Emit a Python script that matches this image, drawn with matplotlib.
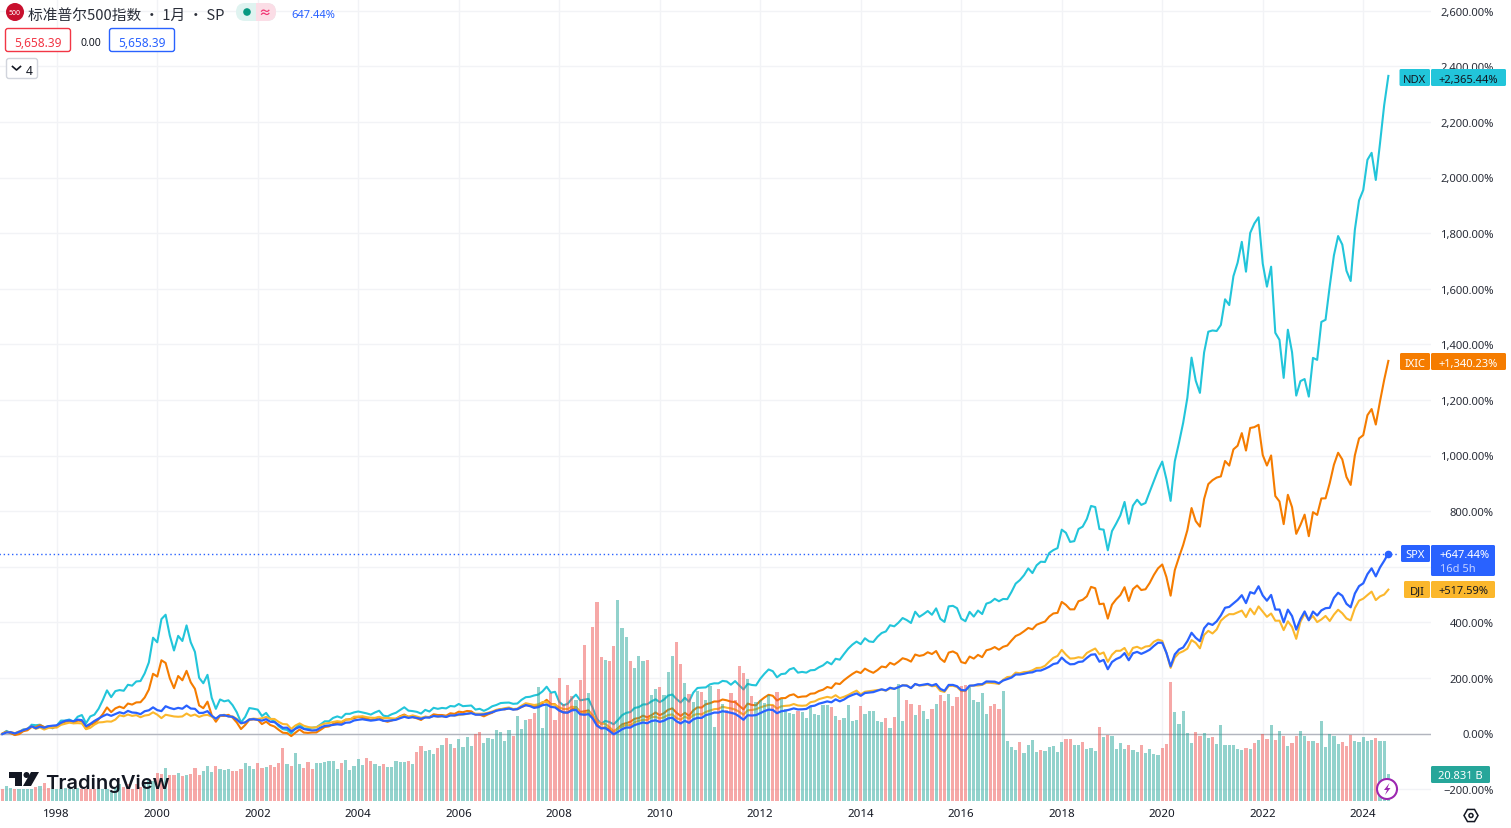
import matplotlib
matplotlib.use("Agg")
import matplotlib.pyplot as plt
import numpy as np
from matplotlib.patches import Circle, FancyBboxPatch, Polygon, Rectangle, RegularPolygon

plt.rcParams["font.family"] = ["Noto Sans", "Noto Sans CJK SC", "DejaVu Sans"]

# monthly closes, Dec 1996 .. Jul 2024, one row per year
spx_close = [
    740.7,
    786, 791, 757, 801, 848, 885, 954, 899, 947, 915, 955, 970,
    980, 1049, 1102, 1112, 1091, 1134, 1121, 957, 1017, 1099, 1164, 1229,
    1280, 1238, 1286, 1335, 1302, 1373, 1329, 1320, 1283, 1363, 1389, 1469,
    1394, 1366, 1499, 1452, 1421, 1455, 1431, 1518, 1437, 1429, 1315, 1320,
    1366, 1240, 1160, 1249, 1256, 1224, 1211, 1134, 1041, 1060, 1139, 1148,
    1130, 1107, 1147, 1077, 1067, 990, 912, 916, 815, 886, 936, 880,
    856, 841, 848, 917, 964, 975, 990, 1008, 996, 1051, 1058, 1112,
    1131, 1145, 1126, 1107, 1121, 1141, 1102, 1104, 1115, 1130, 1174, 1212,
    1181, 1204, 1181, 1157, 1192, 1191, 1234, 1220, 1229, 1207, 1249, 1248,
    1280, 1281, 1295, 1311, 1270, 1270, 1277, 1304, 1336, 1378, 1401, 1418,
    1438, 1407, 1421, 1482, 1531, 1503, 1455, 1474, 1527, 1549, 1481, 1468,
    1379, 1331, 1323, 1386, 1400, 1280, 1267, 1283, 1165, 969, 896, 903,
    826, 735, 798, 873, 919, 919, 987, 1021, 1057, 1036, 1096, 1115,
    1074, 1104, 1169, 1187, 1089, 1031, 1102, 1049, 1141, 1183, 1181, 1258,
    1286, 1327, 1326, 1364, 1345, 1321, 1292, 1219, 1131, 1253, 1247, 1258,
    1312, 1366, 1408, 1398, 1310, 1362, 1379, 1407, 1441, 1412, 1416, 1426,
    1498, 1515, 1569, 1598, 1631, 1606, 1686, 1633, 1682, 1757, 1806, 1848,
    1783, 1859, 1872, 1884, 1924, 1960, 1931, 2003, 1972, 2018, 2068, 2059,
    1995, 2105, 2068, 2086, 2107, 2063, 2104, 1972, 1920, 2079, 2080, 2044,
    1940, 1932, 2060, 2065, 2097, 2099, 2174, 2171, 2168, 2126, 2199, 2239,
    2279, 2364, 2363, 2384, 2412, 2423, 2470, 2472, 2519, 2575, 2648, 2674,
    2824, 2714, 2641, 2648, 2705, 2718, 2816, 2902, 2914, 2712, 2760, 2507,
    2704, 2784, 2834, 2946, 2752, 2942, 2980, 2926, 2977, 3038, 3141, 3231,
    3226, 2954, 2585, 2912, 3044, 3100, 3271, 3500, 3363, 3270, 3622, 3756,
    3714, 3811, 3973, 4181, 4204, 4298, 4395, 4523, 4308, 4605, 4567, 4766,
    4516, 4374, 4530, 4132, 4132, 3785, 4130, 3955, 3586, 3872, 4080, 3840,
    4077, 3970, 4109, 4169, 4180, 4450, 4589, 4508, 4288, 4194, 4568, 4770,
    4846, 5096, 5254, 5036, 5278, 5460, 5658.39,
]
dji_close = [
    6448,
    6813, 6877, 6584, 7009, 7331, 7673, 8223, 7622, 7945, 7442, 7823, 7908,
    7907, 8546, 8800, 9063, 8900, 8952, 8883, 7539, 7843, 8592, 9117, 9181,
    9359, 9307, 9786, 10789, 10560, 10971, 10655, 10829, 10337, 10730, 10878, 11497,
    10941, 10128, 10922, 10734, 10522, 10448, 10522, 11215, 10651, 10971, 10415, 10787,
    10887, 10495, 9879, 10735, 10912, 10502, 10523, 9950, 8848, 9075, 9852, 10022,
    9920, 10106, 10404, 9946, 9925, 9243, 8737, 8663, 7592, 8397, 8896, 8342,
    8054, 7891, 7992, 8480, 8850, 8985, 9234, 9416, 9275, 9801, 9782, 10454,
    10488, 10584, 10358, 10226, 10188, 10435, 10140, 10174, 10080, 10027, 10428, 10783,
    10490, 10766, 10504, 10192, 10467, 10275, 10641, 10482, 10569, 10440, 10806, 10718,
    10865, 10993, 11109, 11367, 11168, 11150, 11186, 11381, 11679, 12081, 12222, 12463,
    12622, 12269, 12354, 13063, 13628, 13409, 13212, 13358, 13896, 13930, 13372, 13265,
    12650, 12266, 12263, 12820, 12638, 11350, 11378, 11544, 10851, 9325, 8829, 8776,
    8001, 7063, 7609, 8168, 8500, 8447, 9172, 9496, 9712, 9713, 10345, 10428,
    10067, 10325, 10857, 11009, 10137, 9774, 10466, 10015, 10788, 11118, 11006, 11578,
    11892, 12226, 12320, 12811, 12570, 12414, 12143, 11614, 10913, 11955, 12046, 12218,
    12633, 12952, 13212, 13214, 12393, 12880, 13009, 13091, 13437, 13096, 13026, 13104,
    13861, 14054, 14579, 14840, 15116, 14910, 15500, 14810, 15130, 15546, 16086, 16577,
    15699, 16322, 16458, 16581, 16717, 16827, 16563, 17098, 17043, 17391, 17828, 17823,
    17165, 18133, 17776, 17841, 18011, 17620, 17690, 16528, 16285, 17664, 17720, 17425,
    16466, 16517, 17685, 17774, 17787, 17930, 18432, 18401, 18308, 18142, 19124, 19763,
    19864, 20812, 20663, 20941, 21009, 21350, 21891, 21948, 22405, 23377, 24272, 24719,
    26149, 25029, 24103, 24163, 24416, 24271, 25415, 25965, 26458, 25116, 25538, 23327,
    24999, 25916, 25929, 26593, 24815, 26600, 26864, 26403, 26917, 27046, 28051, 28538,
    28256, 25409, 21917, 24346, 25383, 25813, 26428, 28430, 27782, 26502, 29639, 30606,
    29983, 30932, 32982, 33875, 34529, 34503, 34935, 35361, 33844, 35820, 34484, 36338,
    35132, 33893, 34678, 32977, 32990, 30775, 32845, 31510, 28726, 32733, 34590, 33147,
    34086, 32657, 33274, 34098, 32908, 34408, 35560, 34722, 33508, 33053, 35951, 37690,
    38150, 38996, 39807, 37816, 38686, 39119, 40277,
]
ixic_close = [
    1291,
    1380, 1309, 1221, 1261, 1400, 1442, 1594, 1587, 1686, 1594, 1601, 1570,
    1619, 1771, 1835, 1868, 1779, 1894, 1872, 1499, 1694, 1771, 1950, 2193,
    2506, 2288, 2461, 2543, 2471, 2686, 2638, 2739, 2746, 2966, 3336, 4069,
    3940, 4697, 4573, 3861, 3401, 3966, 3767, 4206, 3673, 3370, 2598, 2471,
    2773, 2152, 1840, 2116, 2110, 2161, 2027, 1805, 1499, 1690, 1931, 1950,
    1934, 1731, 1845, 1688, 1616, 1463, 1328, 1315, 1172, 1330, 1479, 1336,
    1321, 1338, 1341, 1464, 1596, 1623, 1735, 1810, 1787, 1932, 1960, 2003,
    2066, 2030, 1994, 1920, 1987, 2048, 1887, 1838, 1897, 1975, 2096, 2175,
    2062, 2052, 1999, 1922, 2068, 2057, 2185, 2152, 2152, 2120, 2233, 2205,
    2306, 2281, 2340, 2323, 2179, 2172, 2091, 2184, 2258, 2367, 2432, 2415,
    2464, 2416, 2422, 2525, 2605, 2603, 2546, 2596, 2702, 2859, 2661, 2652,
    2390, 2271, 2279, 2413, 2523, 2293, 2326, 2368, 2092, 1721, 1536, 1577,
    1476, 1378, 1529, 1717, 1774, 1835, 1979, 2009, 2122, 2045, 2145, 2269,
    2147, 2238, 2398, 2461, 2257, 2109, 2255, 2114, 2369, 2507, 2498, 2653,
    2700, 2782, 2781, 2874, 2835, 2774, 2756, 2579, 2415, 2684, 2620, 2605,
    2814, 2967, 3092, 3046, 2827, 2935, 2940, 3067, 3116, 2977, 3010, 3020,
    3142, 3160, 3268, 3329, 3456, 3403, 3626, 3590, 3771, 3920, 4060, 4177,
    4104, 4308, 4199, 4115, 4243, 4408, 4370, 4580, 4493, 4631, 4792, 4736,
    4635, 4964, 4901, 4941, 5070, 4987, 5128, 4777, 4620, 5054, 5109, 5007,
    4614, 4558, 4870, 4775, 4948, 4843, 5162, 5213, 5312, 5189, 5324, 5383,
    5615, 5825, 5912, 6048, 6199, 6140, 6348, 6429, 6496, 6728, 6874, 6903,
    7411, 7273, 7063, 7066, 7442, 7510, 7672, 8110, 8046, 7306, 7331, 6635,
    7282, 7533, 7729, 8095, 7453, 8006, 8175, 7963, 7999, 8292, 8665, 8973,
    9151, 8567, 7700, 8890, 9490, 10059, 10745, 11775, 11168, 10912, 12199, 12888,
    13071, 13192, 13247, 13963, 13749, 14504, 14673, 15259, 14449, 15498, 15538, 15645,
    14240, 13751, 14221, 12335, 12081, 11029, 12391, 11816, 10576, 10988, 11468, 10466,
    11585, 11456, 12222, 12227, 12935, 13788, 14346, 14035, 13219, 12851, 14226, 15011,
    15164, 16092, 16379, 15658, 16735, 17733, 18617,
]
ndx_close = [
    821,
    911, 851, 797, 871, 957, 957, 1097, 1082, 1098, 1019, 1050, 990,
    1072, 1221, 1220, 1253, 1185, 1337, 1388, 1141, 1345, 1400, 1578, 1836,
    2128, 1925, 2106, 2137, 2116, 2296, 2270, 2396, 2407, 2637, 2967, 3708,
    3570, 4266, 4397, 3774, 3324, 3764, 3609, 4077, 3570, 3283, 2506, 2342,
    2594, 1908, 1573, 1855, 1799, 1830, 1683, 1470, 1168, 1330, 1597, 1577,
    1550, 1359, 1452, 1277, 1197, 1051, 963, 942, 833, 989, 1116, 984,
    985, 1009, 1018, 1106, 1200, 1201, 1301, 1347, 1304, 1424, 1424, 1468,
    1494, 1466, 1438, 1401, 1466, 1517, 1370, 1348, 1412, 1456, 1537, 1621,
    1519, 1506, 1483, 1432, 1543, 1493, 1605, 1573, 1601, 1587, 1659, 1645,
    1720, 1654, 1665, 1674, 1551, 1575, 1514, 1571, 1651, 1690, 1747, 1757,
    1762, 1724, 1734, 1845, 1923, 1935, 1975, 2002, 2097, 2238, 2058, 2085,
    1781, 1680, 1723, 1877, 2000, 1829, 1850, 1872, 1599, 1275, 1123, 1212,
    1176, 1110, 1235, 1382, 1453, 1478, 1600, 1626, 1705, 1710, 1796, 1860,
    1776, 1849, 1973, 2003, 1868, 1765, 1905, 1789, 2058, 2199, 2210, 2217,
    2309, 2339, 2338, 2412, 2396, 2298, 2406, 2277, 2155, 2322, 2289, 2278,
    2476, 2626, 2755, 2703, 2519, 2616, 2631, 2757, 2799, 2660, 2682, 2660,
    2731, 2739, 2819, 2878, 2982, 2910, 3076, 3049, 3218, 3378, 3500, 3592,
    3514, 3691, 3596, 3580, 3736, 3849, 3896, 4082, 4049, 4158, 4298, 4236,
    4149, 4488, 4334, 4415, 4509, 4396, 4588, 4274, 4181, 4648, 4664, 4593,
    4279, 4202, 4483, 4341, 4523, 4418, 4730, 4772, 4875, 4801, 4870, 4864,
    5082, 5331, 5436, 5584, 5788, 5647, 5880, 5988, 5979, 6248, 6337, 6396,
    6949, 6855, 6581, 6605, 6968, 7040, 7272, 7660, 7627, 6967, 6949, 6330,
    6906, 7132, 7378, 7781, 7127, 7671, 7848, 7692, 7749, 8083, 8405, 8733,
    8991, 8462, 7813, 9000, 9556, 10156, 10905, 12110, 11418, 11053, 12268, 12888,
    12925, 12909, 13091, 13860, 13687, 14554, 14959, 15583, 14689, 15850, 16135, 16320,
    14930, 14239, 14838, 12855, 12642, 11503, 12947, 12272, 10971, 11405, 11468, 10940,
    12102, 12042, 13181, 13246, 14254, 15179, 15757, 15501, 14715, 14409, 15947, 16826,
    17137, 18044, 18254, 17441, 18536, 19683, 20562,
]
# close of Nov 1996, the start of the percent scale
spx_base = 757.02
dji_base = 6521.7
ixic_base = 1292.61
ndx_base = 834

# volume in relative units, last one stands for 20.831 B
volume = [
    36,
    45, 39, 36, 36, 36, 36, 36, 42, 45, 54, 40, 36,
    36, 36, 39, 36, 36, 39, 36, 36, 36, 36, 36, 36,
    36, 31, 41, 51, 41, 51, 36, 51, 41, 51, 66, 61,
    84, 81, 99, 78, 78, 84, 76, 78, 81, 99, 78, 90,
    106, 86, 106, 96, 94, 96, 90, 90, 96, 114, 106, 96,
    114, 100, 103, 109, 103, 114, 159, 111, 105, 144, 111, 100,
    116, 96, 114, 114, 118, 120, 120, 96, 114, 123, 94, 105,
    126, 108, 129, 120, 111, 105, 111, 102, 102, 120, 117, 117,
    120, 111, 147, 165, 150, 153, 141, 159, 168, 189, 171, 159,
    186, 162, 192, 165, 201, 207, 174, 189, 186, 213, 206, 180,
    213, 195, 255, 216, 243, 246, 264, 342, 219, 291, 324, 243,
    369, 291, 348, 315, 303, 363, 468, 324, 522, 597, 432, 423,
    420, 465, 603, 519, 492, 420, 399, 435, 420, 423, 318, 336,
    342, 318, 387, 435, 477, 411, 354, 321, 297, 330, 327, 303,
    345, 222, 336, 291, 273, 324, 303, 405, 384, 366, 315, 297,
    303, 294, 318, 288, 327, 306, 276, 264, 261, 270, 267, 249,
    282, 261, 258, 288, 288, 282, 255, 243, 249, 288, 240, 243,
    285, 261, 270, 270, 240, 237, 249, 219, 252, 351, 240, 303,
    291, 258, 288, 270, 246, 276, 291, 318, 300, 321, 285, 312,
    345, 348, 342, 303, 297, 324, 261, 285, 291, 276, 330, 180,
    162, 153, 177, 144, 168, 183, 147, 153, 150, 162, 165, 147,
    177, 186, 186, 168, 168, 177, 156, 159, 150, 222, 192, 198,
    195, 156, 174, 156, 168, 153, 147, 168, 144, 156, 141, 138,
    159, 171, 357, 267, 231, 270, 204, 174, 207, 195, 204, 189,
    192, 171, 228, 168, 168, 168, 156, 153, 159, 156, 174, 183,
    201, 186, 228, 183, 210, 195, 165, 174, 195, 210, 195, 180,
    180, 174, 240, 162, 201, 195, 171, 177, 165, 198, 180, 177,
    192, 180, 183, 189, 180, 180, 81,
]
# r = month closed down, g = up
direction = (
    "r"
    "ggrggggrgrrg"
    "ggggggrrrrgg"
    "ggggrrrrrggg"
    "rrgrrgrgrrrg"
    "ggrgggrrrggg"
    "rrgrrrrgrggr"
    "rrgggggg" "rggg"
    "ggrrggrggggg"
    "rgrrgggrgrgr"
    "ggggrrgggggg"
    "grgggrrgggrr"
    "rrrrgrrgrrrg"
    "rrgggrgggrgg"
    "rgggrrgrggrg"
    "ggrgrrrrrgrg"
    "gggrrggggrgg"
    "gggggrgrgggg"
    "rggggg" "rgrggr"
    "rgrggrgrrgrr"
    "rrgggggrrrgg"
    "ggrggggrgggg"
    "grrggrgggrgr"
    "ggggrggrgggg"
    "rrrggggg" "rrgg"
    "rggggggg" "rgrg"
    "rrgrgrgrrggr"
    "grggggg" "rrrgg"
    "gggrggg"
)

year_labels = list(range(1998, 2026, 2))
pct_ticks = list(range(-200, 2800, 200))
hidden_ticks = [600]

GRID = "#f2f3f6"
TEXT = "#131722"
TEAL = "#26a69a"
RED = "#ef5350"
C_NDX = "#22c5da"
C_IXIC = "#f57c00"
C_SPX = "#2962ff"
C_DJI = "#fbb72c"


def pct(close, base):
    return (np.array(close, dtype=float) / base - 1) * 100


n = len(spx_close)
assert n == len(dji_close) == len(ixic_close) == len(ndx_close) == len(volume) == len(direction)
months = np.arange(n)

W, H = 1511, 829
fig = plt.figure(figsize=(W / 100, H / 100), dpi=100, facecolor="white")

# pixel scale of the chart: 4.1875 px per month, 0.278 px per percent
left, right, top, bottom = 0, 1431, 0, 802
ax = fig.add_axes([left / W, 1 - bottom / H, (right - left) / W, (bottom - top) / H])
ax.set_xlim(-2.3 / 4.1875, (right - 2.3) / 4.1875)
ymax = 734.5 / 0.278
ymin = -(bottom - 734.5) / 0.278
ax.set_ylim(ymin, ymax)

for s in ax.spines.values():
    s.set_visible(False)
ax.set_axisbelow(True)
ax.grid(True, color=GRID, lw=1)

year_ticks = [13 + (y - 1998) * 12 for y in year_labels]
ax.set_xticks(year_ticks)
ax.set_xticklabels([str(y) for y in year_labels], fontsize=8.3, color=TEXT)
ax.yaxis.tick_right()
ax.set_yticks(pct_ticks)
ax.set_yticklabels(
    ["" if v in hidden_ticks else f"{v:,.2f}%".replace("-", "\u2212") for v in pct_ticks],
    fontsize=8.1, color="#2a2e39", ha="right",
)
ax.tick_params(axis="x", length=0, pad=5)
ax.tick_params(axis="y", length=0, pad=45)

ax.axhline(0, color="#b2b5be", lw=1, zorder=1)

for close, base, col in [(ndx_close, ndx_base, C_NDX), (ixic_close, ixic_base, C_IXIC), (dji_close, dji_base, C_DJI)]:
    ax.plot(months, pct(close, base), color=col, lw=1.5, zorder=2, solid_joinstyle="round")

vol_scale = (1 / 3) / 0.278  # relative volume unit -> percent axis
bar_colors = [RED if d == "r" else TEAL for d in direction]
ax.bar(months, np.array(volume) * vol_scale, width=0.76, bottom=ymin, color=bar_colors, alpha=0.5, lw=0, zorder=3)

spx_pct = pct(spx_close, spx_base)
ax.plot(months, spx_pct, color=C_SPX, lw=1.6, zorder=4, solid_joinstyle="round")
ax.plot(months[-1], spx_pct[-1], "o", color=C_SPX, ms=4.5, zorder=5)
ax.plot([months[0] - 1, months[-1] + 2.5], [spx_pct[-1]] * 2, color=C_SPX, lw=1, ls=(0, (1, 2)), zorder=4)

# screen furniture in pixel coordinates on top
ov = fig.add_axes([0, 0, 1, 1], zorder=10)
ov.set_xlim(0, W)
ov.set_ylim(H, 0)
ov.axis("off")
ov.patch.set_alpha(0)


def box(x0, y0, x1, y1, face, edge="none", r=2, lw=1):
    ov.add_patch(FancyBboxPatch((x0 + r, y0 + r), x1 - x0 - 2 * r, y1 - y0 - 2 * r,
                                boxstyle=f"round,pad={r},rounding_size={r}",
                                fc=face, ec=edge, lw=lw))


def tag(x0, x1, y0, y1, text, bg, fg):
    box(x0, y0, x1, y1, bg, r=1.5)
    ov.text((x0 + x1) / 2, (y0 + y1) / 2, text, color=fg, fontsize=8, ha="center", va="center_baseline")


# legend head
ov.add_patch(Circle((15, 13), 9, fc="#c8102e", ec="none"))
ov.text(15, 13.2, "500", color="white", fontsize=5, fontweight="bold", ha="center", va="center")
ov.text(28, 14, "标准普尔500指数 · 1月 · SP", fontsize=10.6, color="#2a2e39",
        family=["Noto Sans CJK SC", "DejaVu Sans"], ha="left", va="center_baseline")
box(236, 4, 276, 22, "#dff3f0", r=9)
ov.add_patch(Rectangle((256, 4), 11, 18, fc="#fbdde6", ec="none"))
box(256, 4, 276, 22, "#fbdde6", r=9)
ov.add_patch(Rectangle((256, 4), 8, 18, fc="#fbdde6", ec="none"))
ov.add_patch(Circle((247, 13), 3.8, fc="#089981", ec="none"))
ov.text(265, 13, "\u2248", color="#f23674", fontsize=9, fontweight="bold", ha="center", va="center")
ov.text(291.5, 14, "647.44%", color=C_SPX, fontsize=8, ha="left", va="center_baseline")

box(5.5, 29.5, 70.5, 52.5, "white", "#f23645", r=2.5)
ov.text(38, 41.5, "5,658.39", color="#f23645", fontsize=8.6, ha="center", va="center_baseline")
ov.text(90.5, 41.5, "0.00", color=TEXT, fontsize=7.6, ha="center", va="center_baseline")
box(109.5, 29.5, 174.5, 52.5, "white", C_SPX, r=2.5)
ov.text(142, 41.5, "5,658.39", color=C_SPX, fontsize=8.6, ha="center", va="center_baseline")

box(6.5, 59.5, 37.5, 79.5, "white", "#d1d4dc", r=2.5)
ov.plot([12.5, 16.5, 20.5], [67.5, 71, 67.5], color=TEXT, lw=1.2)
ov.text(29.5, 69.5, "4", color=TEXT, fontsize=8.6, ha="center", va="center_baseline")

# price labels
tag(1399.5, 1430, 70, 87, "NDX", C_NDX, TEXT)
tag(1431, 1506, 70, 87, "+2,365.44%", C_NDX, TEXT)
tag(1400, 1430, 354, 371, "IXIC", C_IXIC, "white")
tag(1431, 1506, 354, 371, "+1,340.23%", C_IXIC, "white")
tag(1401, 1430, 546, 563, "SPX", C_SPX, "white")
box(1431, 546, 1495, 577, C_SPX, r=1.5)
ov.text(1465, 554.5, "+647.44%", color="white", fontsize=8, ha="center", va="center_baseline")
ov.text(1440.5, 568.5, "16d 5h", color="#c4d2ff", fontsize=8, ha="left", va="center_baseline")
tag(1404, 1430, 582, 599, "DJI", C_DJI, TEXT)
tag(1431, 1495, 582, 599, "+517.59%", C_DJI, TEXT)
tag(1431, 1490, 767, 784, "20.831 B", TEAL, "white")

# TradingView mark
ov.add_patch(Polygon([(9, 773), (22, 773), (22, 787), (15, 787), (15, 779), (9, 779)], fc="#131722", ec="none"))
ov.add_patch(Circle((26.5, 776), 3, fc="#131722", ec="none"))
ov.add_patch(Polygon([(31, 773), (39, 773), (31, 787), (23, 787)], fc="#131722", ec="none"))
ov.text(45, 781.5, "TradingView", color="#131722", fontsize=14.5, fontweight="semibold",
        family="Inter", ha="left", va="center_baseline")

# lightning and settings buttons
ov.add_patch(Circle((1387, 790), 10, fc="white", ec="#9c27b0", lw=1.5))
ov.add_patch(Polygon([(1389.5, 784), (1384, 791), (1387, 791), (1385, 796), (1390.5, 789), (1387.5, 789)],
                     fc="#9c27b0", ec="none"))
ov.add_patch(RegularPolygon((1471, 816.5), 6, radius=7, orientation=np.pi / 2,
                            fc="none", ec=TEXT, lw=1.1))
ov.add_patch(Circle((1471, 816.5), 2, fc="none", ec=TEXT, lw=1.1))

fig.savefig("out.png", dpi=100)
